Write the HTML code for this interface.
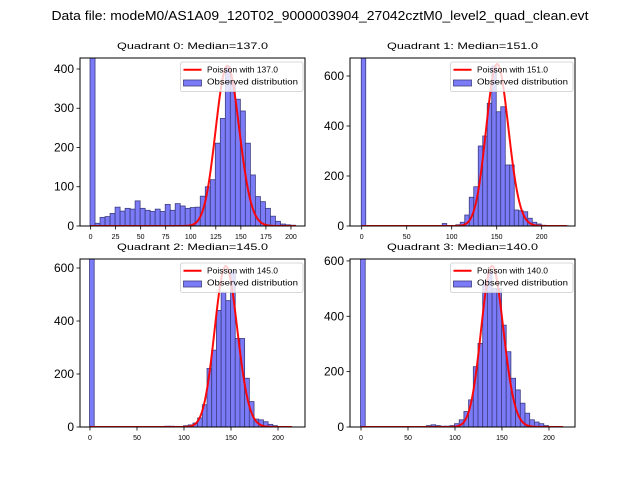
<!DOCTYPE html>
<html><head><meta charset="utf-8"><style>
html,body{margin:0;padding:0;background:#fff;}
svg{display:block;font-family:"Liberation Sans","DejaVu Sans",sans-serif;}
</style></head><body>
<svg id="fig" width="640" height="480" viewBox="0 0 640 480">
<rect width="640" height="480" fill="#fff"/>
<text x="320" y="20" text-anchor="middle" font-size="12.5" textLength="537" lengthAdjust="spacingAndGlyphs">Data file: modeM0/AS1A09_120T02_9000003904_27042cztM0_level2_quad_clean.evt</text>
</svg>
<script>
// ---- data ----
const quadrantNames = ["Quadrant 0","Quadrant 1","Quadrant 2","Quadrant 3"];
const medians = [137.0, 151.0, 145.0, 140.0];
const binWidth = 5;
const counts0 = [1500,7,22,24,32,48,38,45,43,64,45,40,37,43,37,55,40,57,51,45,47,48,76,100,118,211,274,406,368,323,293,211,130,75,62,45,25,12,5,3,2];
const counts1 = [1500,0,0,0,0,0,0,0,0,0,0,0,0,0,0,0,0,0,10,0,0,5,15,44,115,157,320,360,491,640,457,477,244,244,64,61,57,31,15,8,3,1,1,0,0,1];
const counts2 = [1500,0,0,0,0,0,0,0,0,0,0,0,0,0,0,0,3,3,2,2,5,8,15,34,84,221,290,440,509,477,590,334,334,184,96,30,27,20,10,5,2,1];
const counts3 = [1500,0,0,0,0,0,0,0,0,0,0,0,0,0,5,8,5,3,3,5,12,26,56,98,218,302,523,559,500,500,368,272,176,134,86,50,26,18,12,5,2,1];
const curvePeaks = [408, 648, 607, 582];
const curveMax = [205, 228, 215, 215];
const xTicks0 = [0,25,50,75,100,125,150,175,200];
const xTicks1 = [0,50,100,150,200];
const xTicks2 = [0,50,100,150,200];
const xTicks3 = [0,50,100,150,200];
const yTicks0 = [0,100,200,300,400];
const yTicks1 = [0,200,400,600];
const yTicks2 = [0,200,400,600];
const yTicks3 = [0,200,400,600];
// ---- layout ----
const allCounts=[counts0,counts1,counts2,counts3];
const allX=[xTicks0,xTicks1,xTicks2,xTicks3];
const allY=[yTicks0,yTicks1,yTicks2,yTicks3];
const boxes=[{x:80,y:58,w:225,h:168},{x:350,y:58,w:225,h:168},{x:80,y:259,w:225,h:168},{x:350,y:259,w:225,h:168}];
const xlims=[[-10.5,214],[-13,237],[-10.6,228.7],[-11.7,227.7]];
const ylims=[[0,428],[0,672],[0,634],[0,607]];
const NS="http://www.w3.org/2000/svg";
const svg=document.getElementById('fig');
function mk(tag,attrs,parent){const e=document.createElementNS(NS,tag);for(const k in attrs)e.setAttribute(k,attrs[k]);(parent||svg).appendChild(e);return e;}
function logFact(n){let s=0;for(let i=2;i<=n;i++)s+=Math.log(i);return s;}
const defs=mk('defs',{});
for(let q=0;q<4;q++){
  const b=boxes[q],xl=xlims[q],yl=ylims[q];
  const sx=v=>b.x+(v-xl[0])/(xl[1]-xl[0])*b.w;
  const sy=v=>b.y+b.h-(v-yl[0])/(yl[1]-yl[0])*b.h;
  const cp=mk('clipPath',{id:'clip'+q},defs);
  mk('rect',{x:b.x,y:b.y,width:b.w,height:b.h},cp);
  const g=mk('g',{'clip-path':'url(#clip'+q+')'});
  
  
  const cs=allCounts[q];
  for(let i=0;i<cs.length;i++){
    if(cs[i]<=0)continue;
    const x0=sx(i*binWidth-0.5),x1=sx((i+1)*binWidth-0.5);
    const r=mk('rect',{x:x0,y:sy(cs[i]),width:x1-x0,height:sy(0)-sy(cs[i]),fill:'#7b7bf7',stroke:'#3c3c80','stroke-width':0.8},g);
    
    
  }
  const lam=medians[q];
  const lp=k=>k*Math.log(lam)-lam-logFact(k);
  const ref=lp(Math.round(lam));
  let d='';
  for(let k=0;k<=curveMax[q];k++){
    const v=curvePeaks[q]*Math.exp(lp(k)-ref);
    d+=(k?'L':'M')+sx(k).toFixed(2)+' '+sy(v).toFixed(2);
  }
  const pl=mk('path',{d:d,fill:'none',stroke:'#ff0000','stroke-width':2,'stroke-opacity':0.95},g);
  
  
  const fr=mk('rect',{x:b.x,y:b.y,width:b.w,height:b.h,fill:'none',stroke:'#000','stroke-width':1});
  
  
  allX[q].forEach(t=>{
    const x=sx(t);
    mk('line',{x1:x,x2:x,y1:b.y+b.h,y2:b.y+b.h+3.5,stroke:'#000','stroke-width':0.8});
    const tx=mk('text',{x:x,y:b.y+b.h+13,'text-anchor':'middle','font-size':7});
    tx.textContent=t;
    
    
  });
  allY[q].forEach(t=>{
    const y=sy(t);
    mk('line',{x1:b.x-3.5,x2:b.x,y1:y,y2:y,stroke:'#000','stroke-width':0.8});
    const tx=mk('text',{x:b.x-6,y:y+4,'text-anchor':'end','font-size':12});
    tx.textContent=t;
    
    
  });
  const ti=mk('text',{x:b.x+b.w/2,y:b.y-9,'text-anchor':'middle','font-size':9.5,textLength:151,lengthAdjust:'spacingAndGlyphs'});
  ti.textContent=quadrantNames[q]+': Median='+medians[q].toFixed(1);
  
  
  const lg=mk('g',{});
  
  
  const lx=b.x+b.w-124.5, ly=b.y+4;
  mk('rect',{x:lx,y:ly,width:122.5,height:29.5,rx:2,fill:'#fff','fill-opacity':0.8,stroke:'#ccc','stroke-width':0.8},lg);
  mk('line',{x1:lx+3,x2:lx+21,y1:ly+7.7,y2:ly+7.7,stroke:'#f00','stroke-width':2},lg);
  mk('rect',{x:lx+3,y:ly+18,width:18,height:6,fill:'#7b7bf7',stroke:'#3c3c80','stroke-width':0.8},lg);
  const t1=mk('text',{x:lx+26.5,y:ly+10.5,'font-size':8,textLength:71,lengthAdjust:'spacingAndGlyphs'},lg);
  t1.textContent='Poisson with '+medians[q].toFixed(1);
  const t2=mk('text',{x:lx+26.5,y:ly+22.5,'font-size':8,textLength:91,lengthAdjust:'spacingAndGlyphs'},lg);
  t2.textContent='Observed distribution';
}
</script>
</body></html>
